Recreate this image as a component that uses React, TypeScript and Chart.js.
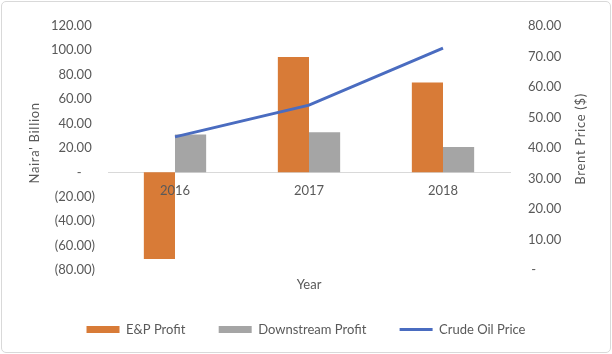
import React, { useEffect, useRef } from "react";
import { Chart, registerables } from "chart.js";

Chart.register(...registerables);

const categories = ["2016", "2017", "2018"];
const epProfit = [-71, 94.5, 73.5];
const downstreamProfit = [31, 32.8, 20.7];
const crudeOilPrice = [43.6, 54, 72.7];

const seriesNames = ["E&P Profit", "Downstream Profit", "Crude Oil Price"];
const leftTitle = "Naira' Billion";
const rightTitle = "Brent Price ($)";
const xTitle = "Year";

const TEXT = "#595959";
const FONT = "Lato";

function fmtLeft(v: number): string {
  if (v === 0) return "-    ";
  if (v < 0) return "(" + Math.abs(v).toFixed(2) + ")";
  return v.toFixed(2) + " ";
}
function fmtRight(v: number): string {
  if (v === 0) return " -";
  return v.toFixed(2);
}

function drawVerticalTitle(ctx: any, text: string, x: number, y: number) {
  ctx.save();
  ctx.fillStyle = TEXT;
  ctx.font = `13px ${FONT}`;
  try {
    ctx.letterSpacing = "0.7px";
  } catch (e) {}
  ctx.textAlign = "center";
  ctx.textBaseline = "middle";
  ctx.translate(x, y);
  ctx.rotate(-Math.PI / 2);
  ctx.fillText(text, 0, 0);
  ctx.restore();
}

const axisTitlesPlugin = {
  id: "axisTitles",
  afterDraw(chart: any) {
    const { ctx, chartArea } = chart;
    const mid = (chartArea.top + chartArea.bottom) / 2;
    const yl = chart.scales.y;
    const yr = chart.scales.y1;
    drawVerticalTitle(ctx, leftTitle, yl.left + 35, mid - 5);
    drawVerticalTitle(ctx, rightTitle, yr.right - 31, mid - 9);
  },
};

export default function App() {
  const ref = useRef<HTMLCanvasElement | null>(null);

  useEffect(() => {
    document.body.style.margin = "0";
    const canvas = ref.current;
    if (!canvas) return;
    const font = { family: FONT, size: 13 };
    const chart = new Chart(canvas, {
      type: "bar",
      plugins: [axisTitlesPlugin],
      data: {
        labels: categories,
        datasets: [
          {
            label: seriesNames[0],
            data: epProfit,
            backgroundColor: "#D87B37",
            borderWidth: 0,
            yAxisID: "y",
            xAxisID: "x",
            categoryPercentage: 0.465,
            barPercentage: 1,
            pointStyle: "rect",
            order: 2,
          },
          {
            label: seriesNames[1],
            data: downstreamProfit,
            backgroundColor: "#A5A5A5",
            borderWidth: 0,
            yAxisID: "y",
            xAxisID: "x",
            categoryPercentage: 0.465,
            barPercentage: 1,
            pointStyle: "rect",
            order: 2,
          },
          {
            type: "line",
            label: seriesNames[2],
            data: crudeOilPrice,
            borderColor: "#4A6CC0",
            backgroundColor: "#4A6CC0",
            borderWidth: 3,
            pointRadius: 0,
            pointHoverRadius: 0,
            tension: 0,
            yAxisID: "y1",
            xAxisID: "x",
            pointStyle: "line",
            order: 1,
          } as any,
        ],
      },
      options: {
        responsive: false,
        animation: false,
        events: [],
        layout: { padding: { top: 18, bottom: 8, left: 0, right: 0 } },
        plugins: {
          tooltip: { enabled: false },
          legend: {
            position: "bottom",
            labels: {
              usePointStyle: true,
              pointStyleWidth: 33,
              boxHeight: 7,
              padding: 10,
              color: TEXT,
              font,
              generateLabels: (c: any) => {
                const items = Chart.defaults.plugins.legend.labels.generateLabels(c);
                items.sort((a: any, b: any) => a.datasetIndex - b.datasetIndex);
                items.forEach((it: any, i: number) => {
                  if (i < 2) it.text = it.text + "       ";
                });
                return items;
              },
            },
          },
        },
        scales: {
          x: {
            type: "category",
            position: { y: 0 } as any,
            offset: true,
            grid: { display: false, drawTicks: false },
            border: { display: true, color: "#D9D9D9", width: 1 },
            ticks: { color: TEXT, font, padding: 11, maxRotation: 0, z: 5 },
          },
          xb: {
            type: "category",
            position: "bottom",
            offset: true,
            grid: { display: false, drawTicks: false },
            border: { display: false },
            ticks: { display: false },
            title: { display: true, text: xTitle, color: TEXT, font, padding: { top: 0, bottom: 20 } },
            afterFit: (s: any) => {
              s.height = 43;
            },
          },
          y: {
            type: "linear",
            position: "left",
            min: -80,
            max: 120,
            grid: { display: false, drawTicks: false },
            border: { display: false },
            ticks: {
              stepSize: 20,
              color: TEXT,
              font,
              padding: 13,
              callback: (v: any) => fmtLeft(Number(v)),
            },
            title: { display: false },
            afterFit: (s: any) => {
              s.width = 108;
            },
          },
          y1: {
            type: "linear",
            position: "right",
            min: 0,
            max: 80,
            grid: { display: false, drawTicks: false },
            border: { display: false },
            ticks: {
              stepSize: 10,
              color: TEXT,
              font,
              padding: 18,
              callback: (v: any) => fmtRight(Number(v)),
            },
            title: { display: false },
            afterFit: (s: any) => {
              s.width = 102;
            },
          },
        },
      } as any,
    });
    return () => chart.destroy();
  }, []);

  return (
    <div style={{ position: "fixed", left: 0, top: 0, width: 612, height: 354, background: "#fff" }}>
      <div
        style={{
          position: "absolute",
          left: 1,
          top: 1,
          width: 610,
          height: 352,
          boxSizing: "border-box",
          border: "1px solid #D9D9D9",
          borderRadius: 5,
        }}
      />
      <canvas
        ref={ref}
        width={612}
        height={354}
        style={{ position: "absolute", left: 0, top: 0, width: 612, height: 354 }}
      />
    </div>
  );
}
